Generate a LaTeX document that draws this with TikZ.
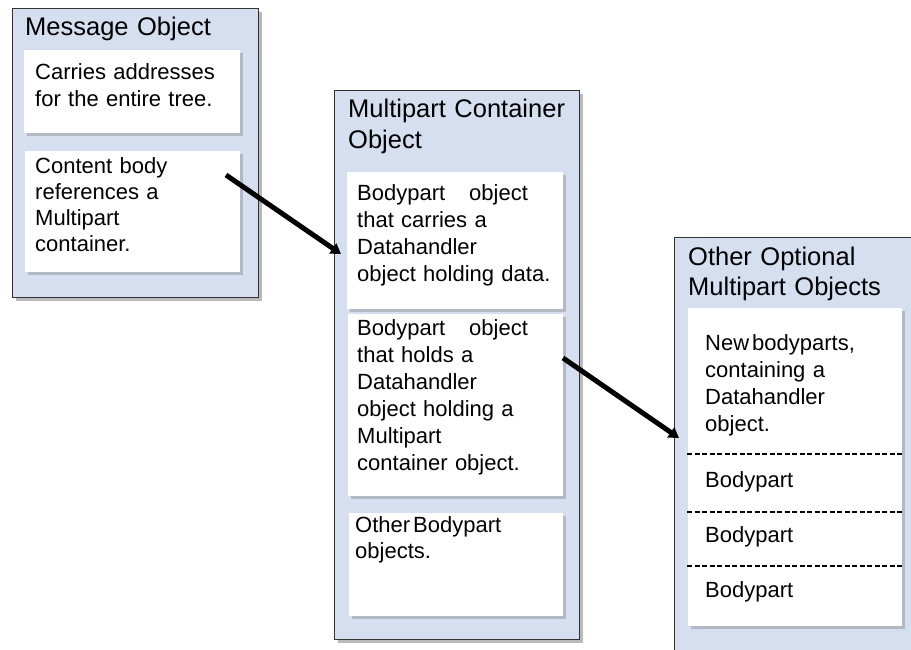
\documentclass[tikz,border=0pt]{standalone}
\usepackage{fontspec}
\setmainfont{Liberation Sans}
\usetikzlibrary{shadows,arrows.meta}
\definecolor{panelblue}{RGB}{214,223,240}
\definecolor{edgegray}{RGB}{50,50,50}
\begin{document}
\begin{tikzpicture}[x=1pt,y=-1pt,
  panel/.style={draw=edgegray, line width=1.2pt, fill=panelblue, anchor=north west, inner sep=0pt,
    drop shadow={shadow xshift=3pt, shadow yshift=-3pt, opacity=0.45, fill=black!60}},
  card/.style={fill=white, anchor=north west, inner sep=0pt,
    drop shadow={shadow xshift=3pt, shadow yshift=-3pt, opacity=0.35, fill=black!55}},
  title/.style={anchor=base west, inner sep=0pt, text width=250pt, align=left,
    font=\fontsize{25.5}{#1}\selectfont},
  title/.default=31,
  body/.style={anchor=base west, inner sep=0pt, text width=210pt, align=left,
    font=\fontsize{22}{#1}\selectfont},
  body/.default=27,
  link/.style={line width=5pt, -{Triangle[length=10pt,width=12pt]}},
  divider/.style={line width=1.5pt, dash pattern=on 5pt off 2.5pt}
]
\useasboundingbox (0,0) rectangle (911,649);
\clip (0,0) rectangle (911,649);

% panels
\node[panel, minimum width=246pt, minimum height=289pt] (msg) at (12,8) {};
\node[panel, minimum width=245pt, minimum height=549pt] (mpc) at (334,90) {};
\node[panel, minimum width=260pt, minimum height=430pt] (opt) at (674,237) {};

% cards
\node[card, minimum width=216pt, minimum height=83pt] (a1) at (24,50) {};
\node[card, minimum width=215pt, minimum height=121pt] (a2) at (25,151) {};
\node[card, minimum width=216pt, minimum height=137pt] (b1) at (347,172) {};
\node[card, minimum width=215pt, minimum height=182pt] (b2) at (348,314) {};
\node[card, minimum width=214pt, minimum height=103pt] (b3) at (349,513) {};
\node[card, minimum width=214pt, minimum height=318pt] (c1) at (688,308) {};

% titles
\node[title] (tmsg) at (25,35) {Message Object};
\node[title] (tmpc) at (348,117) {Multipart Container\\Object};
\node[title=30] (topt) at (688,265) {Other Optional\\Multipart Objects};

% texts
\node[body] (ta1) at (35,79) {Carries addresses\\for the entire tree.};
\node[body=26] (ta2) at (35,173) {Content body\\references a\\Multipart\\container.};
\node[body] (tb1) at (357,200) {Bodypart\hspace{24pt}object\\that carries a\\Datahandler\\object holding data.};
\node[body] (tb2) at (357,335) {Bodypart\hspace{24pt}object\\that holds a\\Datahandler\\object holding a\\Multipart\\container object.};
\node[body=26] (tb3) at (355,532) {Other\hspace{3pt}Bodypart\\objects.};
\node[body] (tc1) at (705,350) {New\hspace{3pt}bodyparts,\\containing a\\Datahandler\\object.};
\node[body] (bp1) at (705,487) {Bodypart};
\node[body] (bp2) at (705,542) {Bodypart};
\node[body] (bp3) at (705,597) {Bodypart};

% dividers
\coordinate (d1l) at (687,454); \coordinate (d1r) at (903,454);
\coordinate (d2l) at (687,512); \coordinate (d2r) at (903,512);
\coordinate (d3l) at (687,566); \coordinate (d3r) at (903,566);
\draw[divider] (d1l) -- (d1r);
\draw[divider] (d2l) -- (d2r);
\draw[divider] (d3l) -- (d3r);

% arrows
\coordinate (s1) at (226,175); \coordinate (e1) at (341,254);
\coordinate (s2) at (563,358); \coordinate (e2) at (679,438);
\draw[link] (s1) -- (e1);
\draw[link] (s2) -- (e2);
\end{tikzpicture}
\end{document}
